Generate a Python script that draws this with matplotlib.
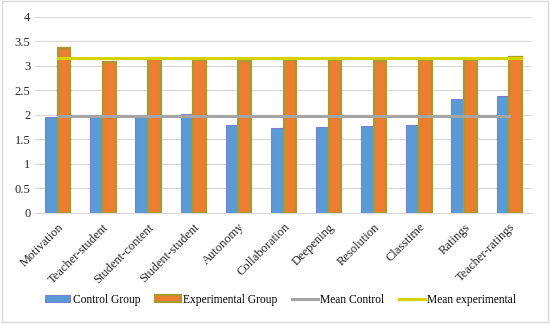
import matplotlib.pyplot as plt
import numpy as np
from matplotlib.patches import Rectangle

categories = ["Motivation", "Teacher-student", "Student-content", "Student-student",
              "Autonomy", "Collaboration", "Deepening", "Resolution", "Classtime",
              "Ratings", "Teacher-ratings"]
control = [1.95, 1.99, 1.98, 2.01, 1.79, 1.74, 1.76, 1.78, 1.80, 2.33, 2.39]
experimental = [3.37, 3.08, 3.16, 3.12, 3.09, 3.12, 3.12, 3.09, 3.12, 3.12, 3.18]
mean_control = 1.97
mean_experimental = 3.16

plt.rcParams['font.family'] = ['Liberation Serif', 'DejaVu Serif']

fig = plt.figure(figsize=(5.5, 3.24), dpi=100)
ax = fig.add_axes([0.064, 0.343, 0.903, 0.605])
fig.patches.append(Rectangle((0.004, 0.006), 0.992, 0.99, transform=fig.transFigure,
                             fill=False, edgecolor='#d9d9d9', linewidth=1))

x = np.arange(len(categories))
w = 0.28
b1 = ax.bar(x - w / 2, control, w, color='#5b9bd5', edgecolor='#7b80d2', linewidth=0.8,
            label='Control Group', zorder=2)
b2 = ax.bar(x + w / 2, experimental, w, color='#ed7d31', edgecolor='#a99a30', linewidth=1.6,
            label='Experimental Group', zorder=2)
l1, = ax.plot([x[0], x[-1]], [mean_control] * 2, color='#a5a5a5', linewidth=2.2,
              label='Mean Control', zorder=3)
l2, = ax.plot([x[0], x[-1] + 0.27], [mean_experimental] * 2, color='#d4d400', linewidth=2.2,
              label='Mean experimental', zorder=3)

ax.set_xlim(-0.5, len(categories) - 0.5)
ax.set_ylim(0, 4)
ax.set_yticks(np.arange(0, 4.01, 0.5))
ax.set_yticklabels(['0', '0.5', '1', '1.5', '2', '2.5', '3', '3.5', '4'])
ax.set_xticks(x)
ax.set_xticklabels(categories, rotation=45, ha='right', rotation_mode='anchor')
ax.tick_params(axis='both', length=0, labelsize=9, colors='#262626')
ax.tick_params(axis='x', pad=6)
ax.grid(axis='y', color='#d9d9d9', linewidth=0.8, zorder=0)
for s in ['top', 'right', 'left']:
    ax.spines[s].set_visible(False)
ax.spines['bottom'].set_color('#d9d9d9')

fig.legend([b1, b2, l1, l2], ['Control Group', 'Experimental Group', 'Mean Control', 'Mean experimental'],
           loc='lower center', bbox_to_anchor=(0.51, 0.025), ncol=4, frameon=False,
           fontsize=8.3, handlelength=2.2, handleheight=0.6, columnspacing=1.3,
           handletextpad=0.2)

fig.savefig('out.png', dpi=100)
